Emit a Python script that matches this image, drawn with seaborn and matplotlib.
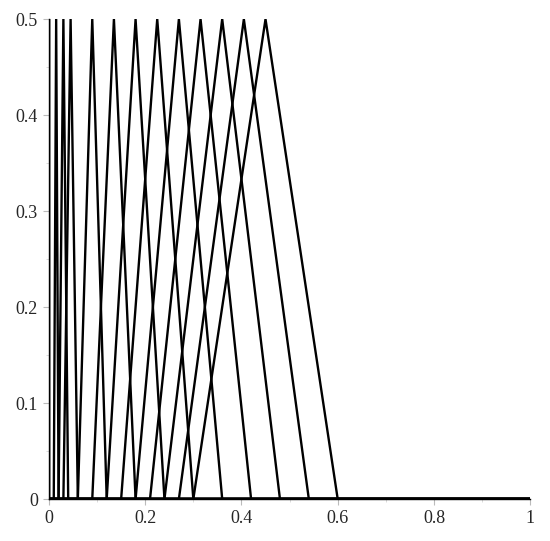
import matplotlib
matplotlib.use("Agg")
import matplotlib.pyplot as plt
import seaborn as sns
import pandas as pd
from matplotlib.ticker import MultipleLocator

sns.set_style("white")
plt.rcParams['font.family'] = ['Liberation Serif', 'DejaVu Serif']

# Triangle ("hat") functions: peak location, left/right feet, peak height
peaks = [0.0, 0.015, 0.03, 0.045, 0.09, 0.135, 0.18, 0.225, 0.27, 0.315, 0.36, 0.405, 0.45]
left_feet = [0.0, 0.01, 0.02, 0.03, 0.06, 0.09, 0.12, 0.15, 0.18, 0.21, 0.24, 0.27, 0.30]
right_feet = [0.0, 0.02, 0.04, 0.06, 0.12, 0.18, 0.24, 0.30, 0.36, 0.42, 0.48, 0.54, 0.60]
height = 0.5
x_end = 1.0

rows = []
for i, (p, a, b) in enumerate(zip(peaks, left_feet, right_feet)):
    xs = [0.0, a, p, b, x_end]
    ys = [0.0, 0.0, height, 0.0, 0.0]
    for k, (x, y) in enumerate(zip(xs, ys)):
        rows.append({"series": i, "order": k, "x": x, "y": y})
df = pd.DataFrame(rows)

fig = plt.figure(figsize=(5.5, 5.41), dpi=100)
ax = fig.add_axes([0.089, 0.0776, 0.875, 0.887])
sns.lineplot(data=df, x="x", y="y", units="series", estimator=None, sort=False,
             color="black", linewidth=1.7, ax=ax, legend=False)

ax.set_xlim(0, 1)
ax.set_ylim(0, 0.5)
ax.set_xlabel("")
ax.set_ylabel("")
ax.xaxis.set_major_locator(MultipleLocator(0.2))
ax.xaxis.set_minor_locator(MultipleLocator(0.1))
ax.yaxis.set_major_locator(MultipleLocator(0.1))
ax.yaxis.set_minor_locator(MultipleLocator(0.05))
fmt = lambda v, pos: "0" if abs(v) < 1e-9 else ("1" if abs(v - 1) < 1e-9 else f"{v:g}")
ax.xaxis.set_major_formatter(plt.FuncFormatter(fmt))
ax.yaxis.set_major_formatter(plt.FuncFormatter(fmt))
ax.tick_params(axis="both", which="major", length=4, width=0.8, color="#bbbbbb",
               labelsize=13, direction="out", pad=4, left=True, bottom=True)
ax.tick_params(axis="both", which="minor", length=2, width=0.6, color="#d5d5d5",
               direction="out", left=True, bottom=True)
for s in ["top", "right"]:
    ax.spines[s].set_visible(False)
for s in ["left", "bottom"]:
    ax.spines[s].set_color("black")
    ax.spines[s].set_linewidth(1.0)

fig.savefig("out.png", dpi=100)
